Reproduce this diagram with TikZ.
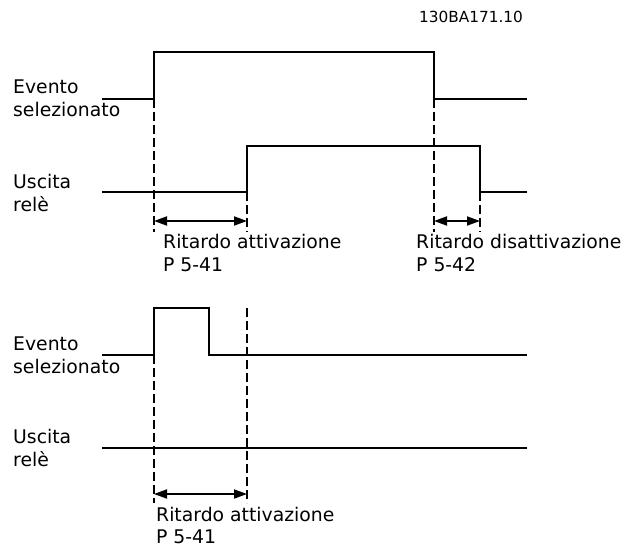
\documentclass[tikz,border=0pt]{standalone}
\usepackage{fontspec}
\setmainfont{DejaVu Sans}
\usetikzlibrary{arrows.meta}
\begin{document}
\begin{tikzpicture}[x=1pt,y=-1pt,
  sig/.style={line width=2pt,line join=miter},
  guide/.style={line width=1.5pt,dash pattern=on 9pt off 4pt},
  span/.style={line width=1.8pt,{Triangle[length=13pt,width=9pt]}-{Triangle[length=13pt,width=9pt]}},
  lbl/.style={anchor=base west,inner sep=0pt,font=\fontsize{18.8}{23}\selectfont},
  tag/.style={anchor=base west,inner sep=0pt,font=\fontsize{15.3}{18}\selectfont}]
\useasboundingbox (0,0) rectangle (636,548);

% title
\node[tag] (title) at (419,23) {130BA171.10};

% ---------- upper diagram ----------
\node[lbl] (ev1a) at (13,94) {Evento};
\node[lbl] (ev1b) at (13,117) {selezionato};
\node[lbl] (us1a) at (13,188) {Uscita};
\node[lbl] (us1b) at (13,211) {relè};

\coordinate (e1a) at (102,99);
\coordinate (e1b) at (154,99);
\coordinate (e1c) at (154,52);
\coordinate (e1d) at (434,52);
\coordinate (e1e) at (434,99);
\coordinate (e1f) at (527,99);
\draw[sig] (e1a) -- (e1b) -- (e1c) -- (e1d) -- (e1e) -- (e1f);

\coordinate (u1a) at (102,192);
\coordinate (u1b) at (247,192);
\coordinate (u1c) at (247,146);
\coordinate (u1d) at (480,146);
\coordinate (u1e) at (480,192);
\coordinate (u1f) at (527,192);
\draw[sig] (u1a) -- (u1b) -- (u1c) -- (u1d) -- (u1e) -- (u1f);

\coordinate (g1a) at (154,232);
\coordinate (g1b) at (247,232);
\coordinate (g1c) at (434,232);
\coordinate (g1d) at (480,232);
\draw[guide] (e1b) -- (g1a);
\draw[guide] (u1b) -- (g1b);
\draw[guide] (e1e) -- (g1c);
\draw[guide] (u1e) -- (g1d);

\coordinate (a1l) at (154,221);
\coordinate (a1r) at (247,221);
\coordinate (a2l) at (434,221);
\coordinate (a2r) at (480,221);
\draw[span] (a1l) -- (a1r);
\draw[span] (a2l) -- (a2r);

\node[lbl] (t1a) at (163,248) {Ritardo attivazione};
\node[lbl] (t1b) at (163,271) {P 5-41};
\node[lbl] (t2a) at (416,248) {Ritardo disattivazione};
\node[lbl] (t2b) at (416,271) {P 5-42};

% ---------- lower diagram ----------
\node[lbl] (ev2a) at (13,350) {Evento};
\node[lbl] (ev2b) at (13,373) {selezionato};
\node[lbl] (us2a) at (13,443) {Uscita};
\node[lbl] (us2b) at (13,466) {relè};

\coordinate (e2a) at (102,355);
\coordinate (e2b) at (154,355);
\coordinate (e2c) at (154,308);
\coordinate (e2d) at (209,308);
\coordinate (e2e) at (209,355);
\coordinate (e2f) at (527,355);
\draw[sig] (e2a) -- (e2b) -- (e2c) -- (e2d) -- (e2e) -- (e2f);

\coordinate (u2a) at (102,448);
\coordinate (u2b) at (527,448);
\draw[sig] (u2a) -- (u2b);

\coordinate (g2t) at (247,308);
\coordinate (g2a) at (154,503);
\coordinate (g2b) at (247,503);
\draw[guide] (e2b) -- (g2a);
\draw[guide] (g2t) -- (g2b);

\coordinate (a3l) at (154,494);
\coordinate (a3r) at (247,494);
\draw[span] (a3l) -- (a3r);

\node[lbl] (t3a) at (156,521) {Ritardo attivazione};
\node[lbl] (t3b) at (156,543) {P 5-41};
\end{tikzpicture}
\end{document}
